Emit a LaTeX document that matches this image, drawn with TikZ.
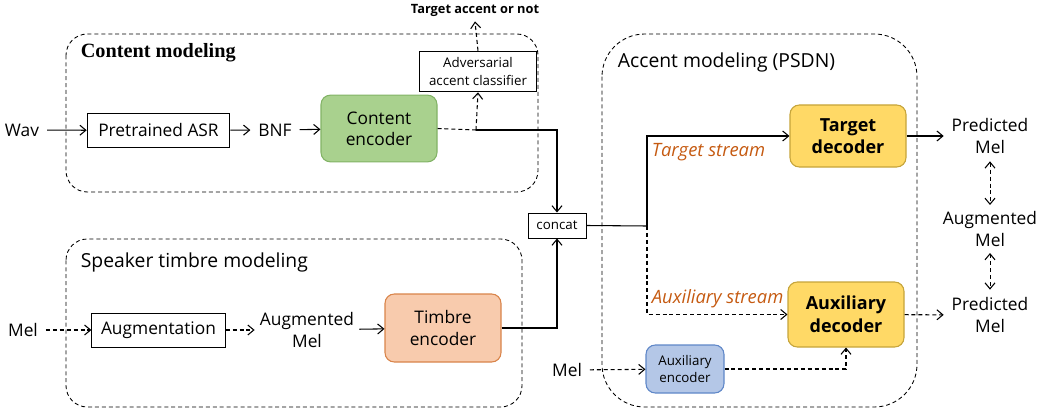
\documentclass[tikz,border=0pt]{standalone}
\usepackage{fontspec}
\setmainfont{Open Sans}
\newfontfamily\serifhead{Liberation Serif}
\usetikzlibrary{arrows.meta,positioning}
\definecolor{encgreen}{HTML}{A9D18E}
\definecolor{encgreenline}{HTML}{82B366}
\definecolor{timbrefill}{HTML}{F8CBAD}
\definecolor{timbreline}{HTML}{D9844A}
\definecolor{decfill}{HTML}{FFD966}
\definecolor{decline}{HTML}{C6A43A}
\definecolor{auxfill}{HTML}{B4C7E7}
\definecolor{auxline}{HTML}{5F87C8}
\definecolor{streamcol}{HTML}{C55A11}
\begin{document}
\begin{tikzpicture}
[x=0.75pt,y=-0.75pt,line width=0.8pt,>={Straight Barb[length=4.5pt,width=7.5pt,line width=0.8pt]},
every node/.style={font=\fontsize{13}{16}\selectfont,align=center,inner sep=1pt},
word/.style={outer sep=5pt},
plainbox/.style={draw=black,line width=0.7pt,inner sep=2pt},
encbox/.style={draw,rounded corners=7pt,line width=0.8pt,inner sep=2pt},
decbox/.style={draw=decline,fill=decfill,rounded corners=7pt,line width=0.8pt,inner sep=2pt,font=\fontsize{13.5}{17}\selectfont\bfseries},
region/.style={draw,line width=0.65pt,dash pattern=on 3pt off 2.2pt},
dashline/.style={dash pattern=on 3pt off 2.2pt},
head/.style={font=\fontsize{14.5}{17}\selectfont,anchor=west},
stream/.style={font=\fontsize{13.8}{16}\selectfont\itshape,text=streamcol,anchor=west},
small/.style={font=\fontsize{10}{13}\selectfont}]
\useasboundingbox (0,0) rectangle (1043,410);

\draw [region,rounded corners=16pt] (66,34) rectangle (538,192);
\draw [region,rounded corners=16pt] (66,239) rectangle (522,407);
\draw [region,rounded corners=32pt] (602,34) rectangle (917,407);

\node (cm) at (79,53) [anchor=west,font=\fontsize{15.2}{18}\selectfont\serifhead\bfseries] {Content modeling};
\node[head] (sm) at (79,262) {Speaker timbre modeling};
\node[head] (am) at (616,62) {Accent modeling (PSDN)};

\node[word] (wav) at (22,130) {Wav};
\node[plainbox,minimum width=107pt,minimum height=26pt] (asr) at (158.5,130.5) {Pretrained ASR};
\node[word] (bnf) at (275,130) {BNF};
\node[encbox,draw=encgreenline,fill=encgreen,minimum width=87pt,minimum height=50pt] (cenc) at (379,128.5) {Content\\encoder};
\node[plainbox,small,minimum width=88pt,minimum height=30.5pt] (cls) at (478,71.5) {Adversarial\\accent classifier};
\node[small,font=\fontsize{9.6}{12}\selectfont\bfseries,outer sep=3pt] (tgt) at (475,10) {Target accent or not};
\coordinate (split) at (476,130);

\node[word] (mel1) at (23,330) {Mel};
\node[plainbox,minimum width=100pt,minimum height=25.5pt] (aug) at (158.5,330) {Augmentation};
\node[word,outer sep=3pt] (amel1) at (307,330) {Augmented\\Mel};
\node[encbox,draw=timbreline,fill=timbrefill,minimum width=87pt,minimum height=51pt] (tenc) at (443,328) {Timbre\\encoder};

\node[plainbox,small,minimum width=43.5pt,minimum height=18.75pt] (concat) at (557,225.5) {concat};
\coordinate (fork) at (647,226);

\node[decbox,minimum width=87pt,minimum height=46.5pt] (tdec) at (848,136) {Target\\decoder};
\node[decbox,minimum width=87pt,minimum height=48.75pt] (adec) at (846,314.5) {Auxiliary\\decoder};
\node[word] (mel2) at (567,370) {Mel};
\node[encbox,small,draw=auxline,fill=auxfill,minimum width=58.5pt,minimum height=36pt] (aenc) at (685,369) {Auxiliary\\encoder};
\node[stream] (ts) at (650,152) {Target stream};
\node[stream] (as) at (650,299) {Auxiliary stream};

\node[word] (pm1) at (990,136) {Predicted\\Mel};
\node[word,outer sep=4pt] (am2) at (990,229) {Augmented\\Mel};
\node[word] (pm2) at (990,315) {Predicted\\Mel};

\draw [->] (wav) -- (asr);
\draw [->] (asr) -- (bnf);
\draw [->] (bnf) -- (cenc);
\draw [dashline] (cenc.east) -- (split);
\draw [dashline,->] (split) -- (cls.south);
\draw [dashline,->] (cls.north) -- (tgt.south);
\draw [->] (split) -| (concat.north);

\draw [dashline,->] (mel1) -- (aug);
\draw [dashline,->] (aug) -- (amel1);
\draw [->] (amel1) -- (tenc);
\draw [->] (tenc.east) -| (concat.south);

\draw [-] (concat.east) -- (fork);
\draw [->] (fork) |- (tdec.west);
\draw [dashline,->] (fork) |- (adec.west);
\draw [->] (tdec) -- (pm1);
\draw [dashline,->] (adec) -- (pm2);
\draw [dashline,<->,line width=0.65pt] (pm1) -- (am2);
\draw [dashline,<->,line width=0.65pt] (am2) -- (pm2);
\draw [dashline,->] (mel2) -- (aenc);
\draw [dashline,->] (aenc.east) -| (adec.south);
\end{tikzpicture}
\end{document}
